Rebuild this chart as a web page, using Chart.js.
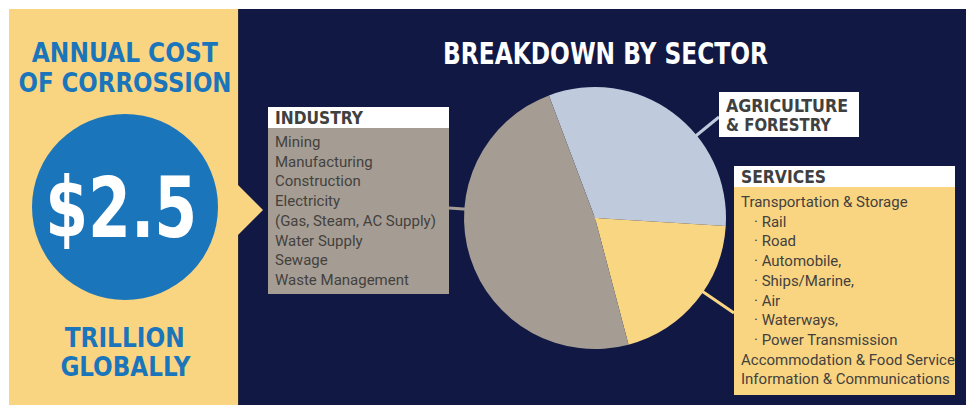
<!DOCTYPE html>
<html>
<head>
<meta charset="utf-8">
<script src="https://cdn.jsdelivr.net/npm/chart.js@4.4.1/dist/chart.umd.min.js"></script>
<style>
  html, body { margin:0; padding:0; background:#ffffff; }
  body { width:971px; height:405px; position:relative; overflow:hidden; font-family:"DejaVu Sans Condensed","DejaVu Sans",sans-serif; }
  .abs { position:absolute; }
  #left { left:9px; top:9px; width:229px; height:396px; background:#f9d582; z-index:0; }
  #dark { left:238px; top:9px; width:728px; height:396px; background:#111844; z-index:0; border-left:1px solid #2a2a3a; box-sizing:border-box; }
  #arrow { left:238px; top:185px; width:0; height:0; border-top:25px solid transparent; border-bottom:25px solid transparent; border-left:25px solid #f9d582; z-index:1; }
  #circle { left:32px; top:114px; width:186px; height:186px; border-radius:50%; background:#1b75bb; z-index:1; }
  .line { position:absolute; white-space:nowrap; z-index:2; }
  .line > span { display:inline-block; }
  .hd { font-weight:bold; color:#1b75bb; font-size:27px; line-height:30px; text-align:center; }
  .big { color:#ffffff; font-weight:bold; font-size:84px; line-height:84px; text-align:center; }
  .title { color:#ffffff; font-weight:bold; font-size:30px; line-height:30px; }
  canvas#c { position:absolute; left:0; top:0; z-index:3; }
  .box { position:absolute; z-index:4; box-sizing:border-box; }
  .boxhead { background:#ffffff; color:#404040; font-weight:bold; font-size:18px; line-height:21px; padding-left:7px; white-space:nowrap; }
  .boxhead span { display:inline-block; transform-origin:left center; }
  .boxbody { font-family:Roboto,"Open Sans",sans-serif; color:#44413d; font-size:15px; line-height:19.7px; padding-left:7px; white-space:nowrap; }
  .ind { padding-left:13px; }
</style>
</head>
<body>
<div id="left" class="abs"></div>
<div id="dark" class="abs"></div>
<div id="arrow" class="abs"></div>
<div id="circle" class="abs"></div>

<div class="line hd" style="left:-25px;width:300px;top:38px;"><span data-w="186">ANNUAL COST</span></div>
<div class="line hd" style="left:-25px;width:300px;top:68px;"><span data-w="213">OF CORROSSION</span></div>
<div class="line big" style="left:-29px;width:300px;top:166px;"><span data-w="152">$2.5</span></div>
<div class="line hd" style="left:-25px;width:300px;top:323px;"><span data-w="120">TRILLION</span></div>
<div class="line hd" style="left:-25px;width:300px;top:352px;"><span data-w="130">GLOBALLY</span></div>
<div class="line title" style="left:443px;top:39px;"><span data-w="325" data-o="left">BREAKDOWN BY SECTOR</span></div>

<canvas id="c" width="971" height="405"></canvas>

<div class="box" id="indBox" style="left:268px;top:107px;width:181px;height:187px;background:#a59d94;">
  <div class="boxhead"><span data-w="88" data-o="left">INDUSTRY</span></div>
  <div class="boxbody" id="indList" style="padding-top:5px;"></div>
</div>
<div class="box" id="agrBox" style="left:719px;top:92px;width:140px;height:45px;background:#ffffff;">
  <div class="boxhead" style="line-height:19px;padding-top:4px;"><span data-w="122" data-o="left">AGRICULTURE</span><br><span data-w="105" data-o="left">&amp; FORESTRY</span></div>
</div>
<div class="box" id="srvBox" style="left:734px;top:166px;width:221px;height:229px;background:#f9d582;">
  <div class="boxhead"><span data-w="85" data-o="left">SERVICES</span></div>
  <div class="boxbody" id="srvList" style="padding-top:6px;"></div>
</div>

<script>
// ---- data ----
const sectors = ['Agriculture & Forestry', 'Services', 'Industry'];
const shares = [31.7, 19.9, 48.4];          // percent of annual corrosion cost
const sliceColors = ['#bfcadc', '#f9d682', '#a59d94'];
const industryItems = ['Mining', 'Manufacturing', 'Construction', 'Electricity', '(Gas, Steam, AC Supply)', 'Water Supply', 'Sewage', 'Waste Management'];
const serviceItems = ['Transportation & Storage', '· Rail', '· Road', '· Automobile,', '· Ships/Marine,', '· Air', '· Waterways,', '· Power Transmission', 'Accommodation & Food Service', 'Information & Communications'];

// fill lists
function fill(id, items) {
  const el = document.getElementById(id);
  items.forEach(t => {
    const d = document.createElement('div');
    if (t.startsWith('·')) d.className = 'ind';
    d.textContent = t;
    el.appendChild(d);
  });
}
fill('indList', industryItems);
fill('srvList', serviceItems);

// condense headline text horizontally to mimic the condensed display face
document.querySelectorAll('span[data-w]').forEach(s => {
  const w = s.getBoundingClientRect().width;
  const target = parseFloat(s.dataset.w);
  if (s.dataset.o === 'left') s.style.transformOrigin = 'left center';
  s.style.transform = 'scaleX(' + (target / w) + ')';
});

// connectors: from box edge toward pie centre, drawn beneath the slices
const connectors = [
  { sector: 'Industry', from: [449, 208] },
  { sector: 'Agriculture & Forestry', from: [719, 117] },
  { sector: 'Services', from: [734, 313] }
];

const connectorPlugin = {
  id: 'connectors',
  beforeDatasetsDraw(chart) {
    const arc = chart.getDatasetMeta(0).data[0];
    const ctx = chart.ctx;
    ctx.save();
    ctx.lineWidth = 3;
    connectors.forEach(c => {
      const i = sectors.indexOf(c.sector);
      ctx.strokeStyle = sliceColors[i];
      ctx.beginPath();
      ctx.moveTo(c.from[0], c.from[1]);
      ctx.lineTo(arc.x, arc.y);
      ctx.stroke();
    });
    ctx.restore();
  }
};

new Chart(document.getElementById('c'), {
  type: 'pie',
  data: {
    labels: sectors,
    datasets: [{ data: shares, backgroundColor: sliceColors, borderWidth: 0 }]
  },
  options: {
    responsive: false,
    animation: false,
    devicePixelRatio: 1,
    rotation: -20.6,
    layout: { padding: { left: 464, right: 245, top: 87, bottom: 56 } },
    plugins: { legend: { display: false }, tooltip: { enabled: false } }
  },
  plugins: [connectorPlugin]
});
</script>
</body>
</html>
